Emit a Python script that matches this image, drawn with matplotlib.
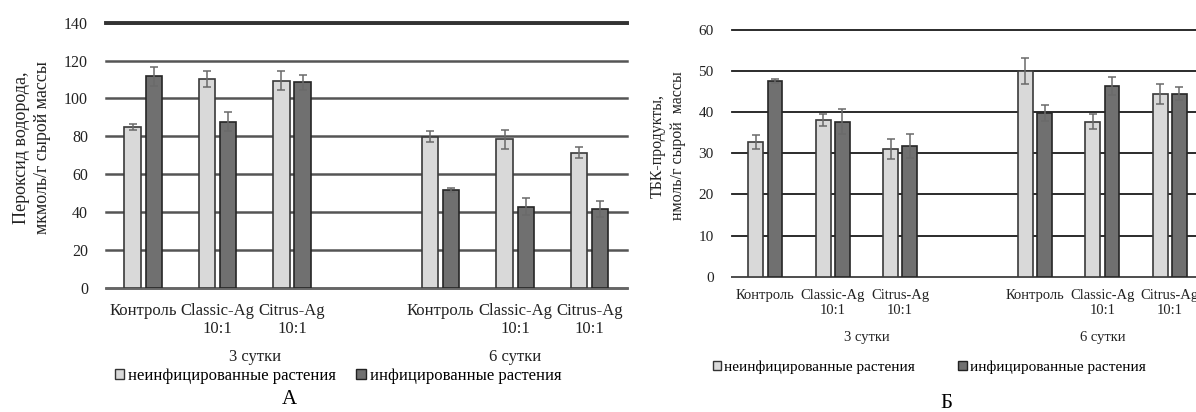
import matplotlib
matplotlib.use("Agg")
import matplotlib.pyplot as plt
import matplotlib.transforms as mtransforms
from matplotlib.patches import Patch
import numpy as np

# ---------------- data ----------------
categories = ["Контроль", "Classic-Ag\n10:1", "Citrus-Ag\n10:1"]
groups = ["3 сутки", "6 сутки"]
series_names = ["неинфицированные растения", "инфицированные растения"]

h2o2_uninf = [85.0, 110.1, 109.4, 79.8, 78.5, 71.3]
h2o2_uninf_err = [1.5, 4.2, 5.0, 2.8, 5.0, 3.0]
h2o2_inf = [111.7, 87.7, 108.5, 51.6, 42.8, 41.6]
h2o2_inf_err = [5.0, 4.9, 4.0, 1.2, 4.4, 4.3]

tbk_uninf = [32.8, 38.1, 31.0, 50.1, 37.7, 44.5]
tbk_uninf_err = [1.7, 1.4, 2.4, 3.2, 1.8, 2.4]
tbk_inf = [47.7, 37.7, 31.8, 39.8, 46.4, 44.5]
tbk_inf_err = [0.5, 3.0, 3.0, 1.9, 2.1, 1.6]

h2o2_ylabel = "Пероксид водорода,\nмкмоль/г сырой массы"
tbk_ylabel = "ТБК-продукты,\nнмоль/г сырой  массы"
panel_labels = ["А", "Б"]

# ---------------- style ----------------
W, H = 1196, 412
plt.rcParams["font.family"] = ["Liberation Serif", "DejaVu Serif"]
LIGHT = "#d9d9d9"
DARK = "#707070"
ERR = "#6a6a6a"

fig = plt.figure(figsize=(W / 100, H / 100), dpi=100)
fig.patch.set_facecolor("white")


def fx(x):
    return x / W


def fy(y):
    return 1 - y / H


def ax_rect(x0, x1, ytop, ybot):
    return [fx(x0), fy(ybot), (x1 - x0) / W, (ybot - ytop) / H]


n_cat = len(categories)
slots = np.array([g * (n_cat + 1) + c for g in range(len(groups)) for c in range(n_cat)])
group_centers = [g * (n_cat + 1) + n_cat / 2 for g in range(len(groups))]
group_centers[-1] = (len(groups) - 1) * (n_cat + 1) + (n_cat - 1) / 2
bw = 0.22
off = 0.142


def draw_panel(ax, uninf, uerr, inf, ierr, ymax, ystep, grid_color, grid_lw, base_color,
               tick_fs, cat_fs, cat_pad, group_y, group_fs, ylabel, ylabel_fs, ylabel_x, ylabel_y):
    ax.set_xlim(-0.5, slots[-1] + 0.5)
    ax.set_ylim(0, ymax)
    ax.set_yticks(np.arange(0, ymax + 1, ystep))
    ax.yaxis.grid(True, color=grid_color, lw=grid_lw)
    for gl in ax.get_ygridlines():
        gl.set_clip_on(False)
    ax.set_axisbelow(True)
    for s in ["left", "right"]:
        ax.spines[s].set_visible(False)
    ax.spines["top"].set_visible(False)
    ax.spines["bottom"].set_color(base_color)
    ax.spines["bottom"].set_linewidth(grid_lw)
    ax.tick_params(axis="y", length=0, labelsize=tick_fs, pad=13, colors="#222222")
    ax.tick_params(axis="x", length=0, labelsize=cat_fs, pad=cat_pad, colors="#222222")
    ax.set_xticks(slots)
    ax.set_xticklabels(categories * len(groups), linespacing=1.15)
    ax.bar(slots - off, uninf, bw, color=LIGHT, edgecolor="#3a3a3a", lw=1.2, zorder=3)
    ax.bar(slots + off, inf, bw, color=DARK, edgecolor="#262626", lw=1.2, zorder=3)
    ax.errorbar(slots - off, uninf, yerr=uerr, fmt="none", ecolor=ERR, elinewidth=1.1,
                capsize=3.2, capthick=1.1, zorder=4)
    ax.errorbar(slots + off, inf, yerr=ierr, fmt="none", ecolor=ERR, elinewidth=1.1,
                capsize=3.2, capthick=1.1, zorder=4)
    trans = mtransforms.blended_transform_factory(ax.transData, fig.transFigure)
    for gc, gname in zip(group_centers, groups):
        ax.text(gc, fy(group_y), gname, transform=trans, ha="center", va="center",
                fontsize=group_fs, color="#222222")
    fig.text(fx(ylabel_x), fy(ylabel_y), ylabel, rotation=90, ha="center", va="center",
             fontsize=ylabel_fs, linespacing=1.35, color="#222222")


# ---------------- panel A ----------------
axA = fig.add_axes(ax_rect(106, 626.7, 22.7, 287.7))
draw_panel(axA, h2o2_uninf, h2o2_uninf_err, h2o2_inf, h2o2_inf_err, 140, 20,
           "#555555", 1.8, "#666666", 11.5, 12, 11, 357, 12, h2o2_ylabel, 13, 32, 148)
axA.spines["top"].set_visible(True)
axA.spines["top"].set_linewidth(2.8)
axA.spines["top"].set_color("#333333")

# ---------------- panel Б ----------------
axB = fig.add_axes(ax_rect(731.7, 1203.5, 30, 276.7))
draw_panel(axB, tbk_uninf, tbk_uninf_err, tbk_inf, tbk_inf_err, 60, 10,
           "#1a1a1a", 1.3, "#555555", 11, 10.5, 9, 337, 10.5, tbk_ylabel, 11.5, 668, 146)

# ---------------- legends ----------------
handles = [Patch(facecolor=LIGHT, edgecolor="#333333", lw=1.0),
           Patch(facecolor=DARK, edgecolor="#222222", lw=1.0)]
fig.legend(handles, series_names, loc="center left", bbox_to_anchor=(fx(115), fy(376)),
           ncol=2, frameon=False, fontsize=12, handlelength=0.55, handleheight=0.55,
           handletextpad=0.25, columnspacing=1.2, borderaxespad=0, borderpad=0)
fig.legend(handles, series_names, loc="center left", bbox_to_anchor=(fx(713), fy(367)),
           ncol=2, frameon=False, fontsize=11, handlelength=0.55, handleheight=0.55,
           handletextpad=0.2, columnspacing=2.8, borderaxespad=0, borderpad=0)

# ---------------- panel letters ----------------
fig.text(fx(289), fy(400), panel_labels[0], ha="center", va="center", fontsize=15)
fig.text(fx(946), fy(404), panel_labels[1], ha="center", va="center", fontsize=15)

fig.savefig("out.png", dpi=100, facecolor="white")
